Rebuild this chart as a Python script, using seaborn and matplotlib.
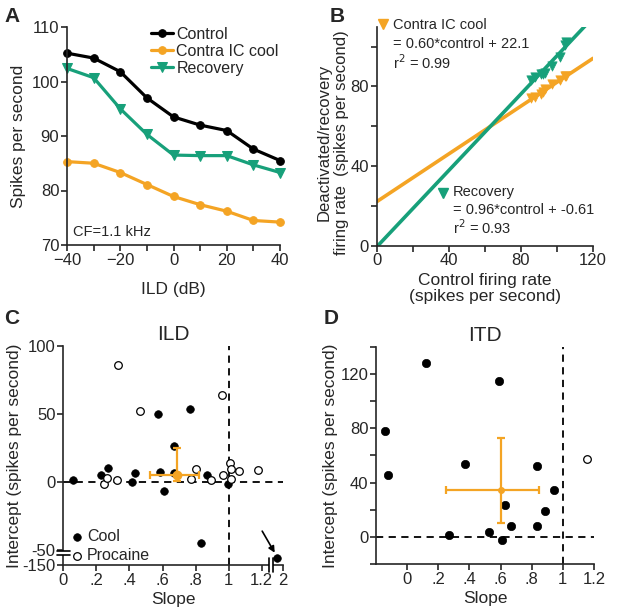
import numpy as np
import pandas as pd
import matplotlib
matplotlib.use("Agg")
import matplotlib.pyplot as plt
import seaborn as sns
from matplotlib.ticker import MultipleLocator, FixedLocator, FixedFormatter

sns.set_theme(style="ticks")
plt.rcParams['font.family'] = ['Liberation Sans', 'DejaVu Sans']
plt.rcParams['axes.linewidth'] = 1.2
plt.rcParams['xtick.major.width'] = 1.2
plt.rcParams['ytick.major.width'] = 1.2
plt.rcParams['xtick.minor.width'] = 1.2
plt.rcParams['ytick.minor.width'] = 1.2
plt.rcParams['xtick.major.size'] = 4
plt.rcParams['ytick.major.size'] = 4
plt.rcParams['xtick.minor.size'] = 4
plt.rcParams['ytick.minor.size'] = 4
plt.rcParams['xtick.major.pad'] = 1.5
plt.rcParams['ytick.major.pad'] = 1.5

ORANGE = "#F4A424"
GREEN = "#17A07A"

# ---------------- Panel A data ----------------
ild = [-40, -30, -20, -10, 0, 10, 20, 30, 40]
control = [105.2, 104.3, 101.8, 97.0, 93.5, 92.0, 91.0, 87.6, 85.5]
cool = [85.3, 85.0, 83.3, 81.1, 78.9, 77.4, 76.2, 74.5, 74.2]
recovery = [102.4, 100.7, 95.0, 90.3, 86.5, 86.4, 86.4, 84.7, 83.3]

# ---------------- Panel B regression ----------------
cool_fit_slope, cool_fit_icpt = 0.60, 22.1
rec_fit_slope, rec_fit_icpt = 0.96, -0.61
fit_x = [0, 120]

# ---------------- Panel C data (ILD) ----------------
c_cool_slope = [0.06, 0.226, 0.268, 0.415, 0.433, 0.575, 0.585, 0.610, 0.670, 0.670, 0.768, 0.871, 0.833, 0.993, 1.80]
c_cool_icpt = [1.7, 4.9, 10.4, 0.0, 6.8, 50.0, 7.3, -6.5, 26.3, 7.0, 54.0, 4.8, -45.0, -1.1, -100.0]
c_proc_slope = [0.246, 0.266, 0.327, 0.333, 0.464, 0.772, 0.802, 0.890, 0.958, 0.968, 1.008, 1.016, 1.013, 1.060, 1.179]
c_proc_icpt = [-1.2, 3.2, 1.7, 86.2, 51.9, 2.2, 9.7, 1.6, 63.7, 5.4, 14.1, 9.5, 2.0, 8.1, 8.6]
c_mean_slope, c_slope_lo, c_slope_hi = 0.69, 0.525, 0.823
c_mean_icpt, c_icpt_lo, c_icpt_hi = 5.5, 0.5, 25.3
c_xticks = [0, 0.2, 0.4, 0.6, 0.8, 1.0, 1.2, 2.0]
c_xticklabels = ['0', '.2', '.4', '.6', '.8', '1', '1.2', '2']
c_yticks = [-150, -50, 0, 50, 100]
c_yticklabels = ['-150', '-50', '0', '50', '100']

# ---------------- Panel D data (ITD) ----------------
d_cool_slope = [-0.141, -0.120, 0.120, 0.267, 0.374, 0.526, 0.590, 0.607, 0.626, 0.667, 0.835, 0.835, 0.885, 0.944]
d_cool_icpt = [78.1, 45.6, 128.1, 1.0, 53.4, 3.2, 114.9, -2.2, 23.8, 8.1, 51.9, 8.1, 19.3, 34.5]
d_proc_slope = [1.154]
d_proc_icpt = [57.6]
d_mean_slope, d_slope_lo, d_slope_hi = 0.605, 0.252, 0.844
d_mean_icpt, d_icpt_lo, d_icpt_hi = 34.5, 10.5, 72.7
d_xticks = [0, 0.2, 0.4, 0.6, 0.8, 1.0, 1.2]
d_xticklabels = ['0', '.2', '.4', '.6', '.8', '1', '1.2']

fig = plt.figure(figsize=(6.4, 6.14), dpi=100)
W, H = 640, 614


def axes_px(l, t, r, b):
    return fig.add_axes([l / W, 1 - b / H, (r - l) / W, (b - t) / H])


axA = axes_px(67, 27, 280, 245)
axB = axes_px(376.7, 26.7, 593, 245.7)
axC = axes_px(63.3, 346, 282.7, 565)
axD = axes_px(376, 346.7, 594, 564)

TICK_FS = 12
LAB_FS = 12.5

# ---------------- Panel A ----------------
dfA = pd.DataFrame({'ILD': ild, 'Control': control, 'Contra IC cool': cool, 'Recovery': recovery})
for col, colr, mk in [('Control', 'black', 'o'), ('Contra IC cool', ORANGE, 'o'), ('Recovery', GREEN, 'v')]:
    sns.lineplot(data=dfA, x='ILD', y=col, ax=axA, color=colr, marker=mk, markersize=6.5 if mk == 'v' else 5.5,
                 markeredgecolor=colr, linewidth=2.3, label=col, clip_on=False)
axA.set_xlim(-40, 40)
axA.set_ylim(70, 110)
axA.xaxis.set_major_locator(MultipleLocator(20))
axA.xaxis.set_minor_locator(MultipleLocator(10))
axA.yaxis.set_major_locator(MultipleLocator(10))
axA.set_xlabel('ILD (dB)', fontsize=LAB_FS, labelpad=10)
axA.set_ylabel('Spikes per second', fontsize=LAB_FS, labelpad=4)
axA.tick_params(labelsize=TICK_FS, which='both')
axA.legend(loc='upper left', bbox_to_anchor=(0.393, 1.0), frameon=False, fontsize=11.5,
           handlelength=1.4, handletextpad=0.2, labelspacing=0.12, borderpad=0, borderaxespad=0)
axA.text(0.03, 0.06, 'CF=1.1 kHz', transform=axA.transAxes, fontsize=10.5, va='center', ha='left')
sns.despine(ax=axA)

# ---------------- Panel B ----------------
dfB = pd.DataFrame({'control': control + control,
                    'other': cool + recovery,
                    'cond': ['cool'] * len(cool) + ['rec'] * len(recovery)})
fx = np.array(fit_x, float)
axB.plot(fx, cool_fit_slope * fx + cool_fit_icpt, color=ORANGE, lw=2.6, zorder=1)
axB.plot(fx, rec_fit_slope * fx + rec_fit_icpt, color=GREEN, lw=2.6, zorder=1)
sns.scatterplot(data=dfB[dfB.cond == 'cool'], x='control', y='other', ax=axB, marker='v', s=45,
                color=ORANGE, edgecolor=ORANGE, linewidth=0.5, legend=False, zorder=3)
sns.scatterplot(data=dfB[dfB.cond == 'rec'], x='control', y='other', ax=axB, marker='v', s=45,
                color=GREEN, edgecolor=GREEN, linewidth=0.5, legend=False, zorder=3)
axB.set_xlim(0, 120)
axB.set_ylim(0, 110)
axB.xaxis.set_major_locator(MultipleLocator(40))
axB.xaxis.set_minor_locator(MultipleLocator(20))
axB.yaxis.set_major_locator(MultipleLocator(40))
axB.yaxis.set_minor_locator(MultipleLocator(20))
axB.tick_params(labelsize=TICK_FS, which='both')
axB.set_xlabel('Control firing rate\n(spikes per second)', fontsize=LAB_FS, labelpad=3, linespacing=1.15)
axB.set_ylabel('Deactivated/recovery\nfiring rate  (spikes per second)', fontsize=12, labelpad=0,
               linespacing=1.2)
axB.yaxis.set_label_coords(-0.13, 0.47)
BT = 10.5
axB.plot([0.029], [1.012], marker='v', color=ORANGE, ms=7.5, transform=axB.transAxes, clip_on=False)
axB.text(0.074, 1.01, 'Contra IC cool', transform=axB.transAxes, fontsize=BT, va='center')
axB.text(0.074, 0.922, '= 0.60*control + 22.1', transform=axB.transAxes, fontsize=BT, va='center')
axB.text(0.074, 0.838, 'r$^2$ = 0.99', transform=axB.transAxes, fontsize=BT, va='center')
axB.plot([0.305], [0.242], marker='v', color=GREEN, ms=7.5, transform=axB.transAxes, clip_on=False)
axB.text(0.351, 0.245, 'Recovery', transform=axB.transAxes, fontsize=BT, va='center')
axB.text(0.351, 0.165, '= 0.96*control + -0.61', transform=axB.transAxes, fontsize=BT, va='center')
axB.text(0.351, 0.081, 'r$^2$ = 0.93', transform=axB.transAxes, fontsize=BT, va='center')
sns.despine(ax=axB)

# ---------------- Panel C (broken axes via function scales) ----------------
XK, YK = 0.158, 0.11


def xfwd(x):
    x = np.asarray(x, float)
    return np.where(x <= 1.2, x, 1.2 + (x - 1.2) * XK)


def xinv(x):
    x = np.asarray(x, float)
    return np.where(x <= 1.2, x, 1.2 + (x - 1.2) / XK)


def yfwd(y):
    y = np.asarray(y, float)
    return np.where(y >= -50, y, -50 + (y + 50) * YK)


def yinv(y):
    y = np.asarray(y, float)
    return np.where(y >= -50, y, -50 + (y + 50) / YK)


axC.set_xscale('function', functions=(xfwd, xinv))
axC.set_yscale('function', functions=(yfwd, yinv))
axC.axhline(0, color='black', ls=(0, (4, 3)), lw=1.3, zorder=1)
axC.axvline(1, color='black', ls=(0, (4, 3)), lw=1.3, zorder=1)
sns.scatterplot(x=c_cool_slope, y=c_cool_icpt, ax=axC, color='black', s=30, edgecolor='black',
                linewidth=0.5, label='Cool', zorder=3, clip_on=False)
sns.scatterplot(x=c_proc_slope, y=c_proc_icpt, ax=axC, facecolor='white', s=30, edgecolor='black',
                linewidth=0.9, label='Procaine', zorder=3)
axC.errorbar([c_mean_slope], [c_mean_icpt],
             xerr=[[c_mean_slope - c_slope_lo], [c_slope_hi - c_mean_slope]],
             yerr=[[c_mean_icpt - c_icpt_lo], [c_icpt_hi - c_mean_icpt]],
             fmt='o', color=ORANGE, ms=6, elinewidth=1.6, capsize=3, capthick=1.6, zorder=4)
axC.set_xlim(0, 2)
axC.set_ylim(-150, 100)
axC.xaxis.set_major_locator(FixedLocator(c_xticks))
axC.xaxis.set_major_formatter(FixedFormatter(c_xticklabels))
axC.xaxis.set_minor_locator(FixedLocator([]))
axC.yaxis.set_major_locator(FixedLocator(c_yticks))
axC.yaxis.set_major_formatter(FixedFormatter(c_yticklabels))
axC.yaxis.set_minor_locator(FixedLocator([]))
axC.tick_params(labelsize=TICK_FS)
axC.set_xlabel('Slope', fontsize=LAB_FS, labelpad=3)
axC.set_ylabel('Intercept (spikes per second)', fontsize=LAB_FS, labelpad=0)
axC.set_title('ILD', fontsize=15, pad=4)
axC.annotate('', xy=(c_cool_slope[-1], c_cool_icpt[-1]), xytext=(-11, 19), textcoords='offset points',
             arrowprops=dict(arrowstyle='-|>', color='black', lw=1.2, shrinkA=0, shrinkB=4,
                             mutation_scale=9))
axC.legend(loc='lower left', bbox_to_anchor=(0.04, 0.01), frameon=False, fontsize=11.5,
           handlelength=0.6, handletextpad=0.35, labelspacing=0.25, borderpad=0, borderaxespad=0)
sns.despine(ax=axC)
# axis break marks
for yb in (0.045, 0.064):
    axC.plot([-0.03, 0.03], [yb, yb], color='black', lw=1.2, transform=axC.transAxes, clip_on=False, zorder=6)
axC.add_patch(plt.Rectangle((-0.006, 0.047), 0.012, 0.015, transform=axC.transAxes, color='white',
                            clip_on=False, zorder=5, lw=0))
for xb in (0.937, 0.956):
    axC.plot([xb, xb], [-0.03, 0.03], color='black', lw=1.2, transform=axC.transAxes, clip_on=False, zorder=6)
axC.add_patch(plt.Rectangle((0.939, -0.006), 0.015, 0.012, transform=axC.transAxes, color='white',
                            clip_on=False, zorder=5, lw=0))

# ---------------- Panel D ----------------
axD.axhline(0, color='black', ls=(0, (4, 3)), lw=1.3, zorder=1)
axD.axvline(1, color='black', ls=(0, (4, 3)), lw=1.3, zorder=1)
sns.scatterplot(x=d_cool_slope, y=d_cool_icpt, ax=axD, color='black', s=36, edgecolor='black',
                linewidth=0.5, zorder=3, legend=False)
sns.scatterplot(x=d_proc_slope, y=d_proc_icpt, ax=axD, facecolor='white', s=30, edgecolor='black',
                linewidth=0.9, zorder=3, legend=False)
axD.errorbar([d_mean_slope], [d_mean_icpt],
             xerr=[[d_mean_slope - d_slope_lo], [d_slope_hi - d_mean_slope]],
             yerr=[[d_mean_icpt - d_icpt_lo], [d_icpt_hi - d_mean_icpt]],
             fmt='o', color=ORANGE, ms=4, elinewidth=1.6, capsize=3, capthick=1.6, zorder=4)
axD.set_xlim(-0.2, 1.2)
axD.set_ylim(-20, 140)
axD.xaxis.set_major_locator(FixedLocator(d_xticks))
axD.xaxis.set_major_formatter(FixedFormatter(d_xticklabels))
axD.yaxis.set_major_locator(MultipleLocator(40))
axD.yaxis.set_minor_locator(MultipleLocator(20))
axD.tick_params(labelsize=TICK_FS, which='both')
axD.set_xlabel('Slope', fontsize=LAB_FS, labelpad=3)
axD.set_ylabel('Intercept (spikes per second)', fontsize=LAB_FS, labelpad=2)
axD.set_title('ITD', fontsize=15, pad=4)
sns.despine(ax=axD)

# ---------------- panel letters ----------------
for letter, px, py in [('A', 12, 16), ('B', 337, 16), ('C', 12, 318), ('D', 331, 318)]:
    fig.text(px / W, 1 - py / H, letter, fontsize=15, fontweight='bold', ha='center', va='center')

fig.savefig('out.png', dpi=100)
